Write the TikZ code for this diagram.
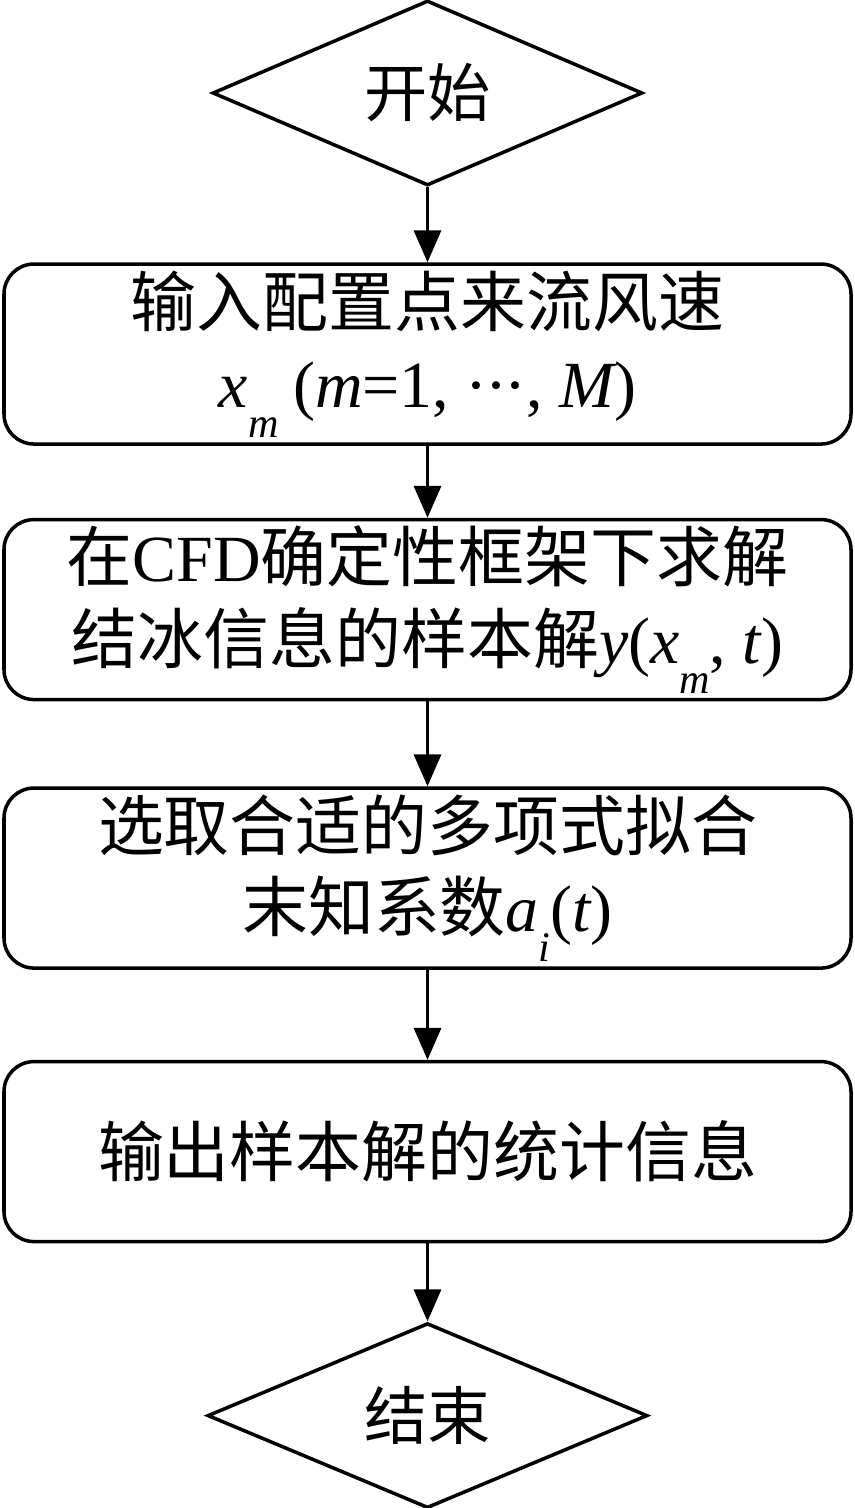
\documentclass[tikz,border=0pt]{standalone}
\usepackage{fontspec}
\setmainfont{Liberation Serif}
\newfontfamily\cjk{Noto Sans CJK SC}
\usepackage{tikz}
\usetikzlibrary{shapes.geometric, positioning, arrows.meta}

\newcommand{\lt}[1]{{\rmfamily #1}}
\newcommand{\vr}[1]{{\rmfamily\itshape #1}}
\newcommand{\sbs}[1]{\raisebox{-0.45em}{\fontsize{24}{24}\selectfont\rmfamily\itshape #1}}
\newcommand{\dotsc}{\lt{\textperiodcentered\kern-0.04em\textperiodcentered\kern-0.04em\textperiodcentered}}

\begin{document}
\begin{tikzpicture}
[box/.style={rectangle, rounded corners=0.6cm, draw=black, line width=2pt, minimum width=16.94cm, minimum height=3.6cm, align=center, font=\fontsize{37.5}{46.5}\selectfont\cjk},
term/.style={diamond, draw=black, line width=2pt, inner sep=0pt, minimum width=8.6cm, minimum height=3.6cm, font=\fontsize{36}{40}\selectfont\cjk},
flow/.style={-{Triangle[length=0.64cm, width=0.54cm]}, line width=2pt}]

\useasboundingbox (0,0) rectangle (17.1,-30.16);

\node[term] (start) at (8.55,-1.86) {开始};
\node[box, below=1.5cm of start] (input) {输入配置点来流风速\\ \vr{x}\sbs{m} \lt{(}\vr{m}\lt{=1, }\dotsc\lt{, }\vr{M}\lt{)}};
\node[box, below=1.44cm of input] (solve) {在\lt{CFD}确定性框架下求解\\ 结冰信息的样本解\vr{y}\lt{(}\vr{x}\sbs{m}\lt{, }\vr{t}\lt{)}};
\node[box, below=1.7cm of solve] (fit) {选取合适的多项式拟合\\ 末知系数\vr{a}\sbs{i}\lt{(}\vr{t}\lt{)}};
\node[box, below=1.8cm of fit] (output) {输出样本解的统计信息};
\node[term, below=1.56cm of output, minimum width=8.8cm, minimum height=3.7cm] (stop) {结束};

% connectors
\draw[flow] (start.south) -- (input.north);
\draw[flow] (input.south) -- (solve.north);
\draw[flow] (solve.south) -- (fit.north);
\draw[flow] (fit.south) -- (output.north);
\draw[flow] (output.south) -- (stop.north);
\end{tikzpicture}
\end{document}
